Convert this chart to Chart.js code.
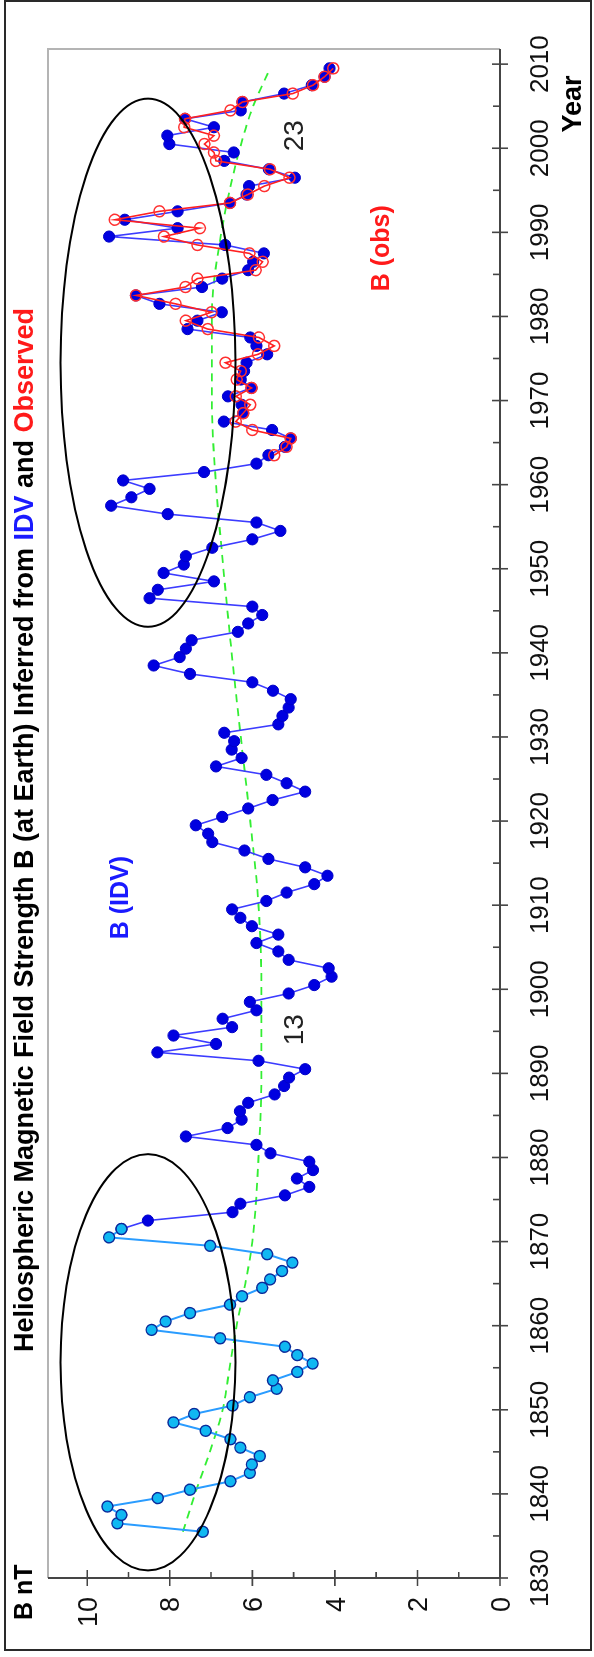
<!DOCTYPE html>
<html>
<head>
<meta charset="utf-8">
<script src="https://cdn.jsdelivr.net/npm/chart.js@4"></script>
<style>
  html, body { margin: 0; padding: 0; background: #fff; }
  body { width: 594px; height: 1657px; overflow: hidden; position: relative; }
  /* the chart is drawn landscape and turned a quarter turn, like the original figure */
  #wrap {
    position: absolute; left: 0; top: 0;
    width: 1657px; height: 594px;
    transform-origin: 0 0;
    transform: translateY(1657px) rotate(-90deg);
  }
</style>
</head>
<body>
<div id="wrap"><canvas id="hmf" width="1657" height="594"></canvas></div>
<script>
// annual means, plotted at mid-year
const idvFirstYear = 1835;
const idvB = [
  7.2, 9.27, 9.17, 9.51, 8.29, 7.51, 6.53, 6.06, 6.01, 5.82,   // 1835-1844
  6.29, 6.53, 7.13, 7.91, 7.41, 6.48, 6.06, 5.41, 5.5, 4.91,   // 1845-1854
  4.54, 4.91, 5.21, 6.78, 8.44, 8.1, 7.51, 6.54, 6.25, 5.76,   // 1855-1864
  5.57, 5.28, 5.03, 5.64, 7.02, 9.47, 9.17, 8.53, 6.48, 6.29,  // 1865-1874
  5.21, 4.62, 4.92, 4.53, 4.62, 5.56, 5.9, 7.61, 6.6, 6.26,    // 1875-1884
  6.3, 6.1, 5.46, 5.23, 5.11, 4.72, 5.85, 8.3, 6.88, 7.91,     // 1885-1894
  6.49, 6.72, 5.9, 6.06, 5.12, 4.5, 4.08, 4.15, 5.12, 5.37,    // 1895-1904
  5.9, 5.37, 6.01, 6.29, 6.49, 5.66, 5.17, 4.5, 4.18, 4.72,    // 1905-1914
  5.61, 6.19, 6.97, 7.07, 7.37, 6.73, 6.1, 5.51, 4.72, 5.17,   // 1915-1924
  5.66, 6.88, 6.26, 6.5, 6.44, 6.68, 5.37, 5.27, 5.12, 5.07,   // 1925-1934
  5.5, 6.0, 7.51, 8.39, 7.76, 7.61, 7.47, 6.35, 6.1, 5.76,     // 1935-1944
  6.0, 8.49, 8.29, 6.93, 8.15, 7.66, 7.61, 6.97, 6.0, 5.32,    // 1945-1954
  5.9, 8.05, 9.42, 8.93, 8.49, 9.13, 7.17, 5.9, 5.61, 5.21,    // 1955-1964
  5.07, 5.52, 6.69, 6.22, 6.26, 6.59, 6.02, 6.28, 6.2, 6.14,   // 1965-1974
  5.64, 5.9, 6.05, 7.57, 7.33, 6.74, 8.25, 8.82, 7.22, 6.73,   // 1975-1984
  6.1, 5.98, 5.72, 6.66, 9.47, 7.81, 9.09, 7.81, 6.54, 6.14,   // 1985-1994
  6.08, 4.97, 5.6, 6.68, 6.45, 8.01, 8.06, 6.93, 7.63, 6.28,   // 1995-2004
  6.24, 5.23, 4.56, 4.25, 4.13                                 // 2005-2009
];
const earlyLastYear = 1871;   // light blue up to here

const obsFirstYear = 1963;
const obsB = [
  5.47, 5.17, 5.07, 6.0, 6.4, 6.22, 6.05, 6.4, 6.02, 6.38,     // 1963-1972
  6.28, 6.65, 5.86, 5.47, 5.84, 7.08, 7.61, 6.99, 7.86, 8.82,  // 1973-1982
  7.62, 7.33, 5.92, 5.75, 6.07, 7.33, 8.14, 7.27, 9.33, 8.25,  // 1983-1992
  6.54, 6.11, 5.71, 5.1, 5.57, 6.88, 6.93, 7.16, 6.93, 7.65,   // 1993-2002
  7.63, 6.53, 6.24, 5.02, 4.53, 4.25, 4.04                     // 2003-2009
];

// long-term trend (green dashed)
const trendYears = [1835.5, 1840, 1845, 1850, 1855, 1860, 1865, 1870, 1880, 1890, 1900,
                    1910, 1920, 1930, 1940, 1950, 1960, 1970, 1980, 1990, 2000, 2005, 2009.5];
const trendB = [7.68, 7.39, 7.03, 6.72, 6.55, 6.38, 6.17, 6.0, 5.85, 5.78, 5.78,
                5.85, 6.05, 6.28, 6.5, 6.7, 6.88, 6.98, 6.98, 6.75, 6.3, 5.98, 5.57];

const yearTicks = [1830, 1840, 1850, 1860, 1870, 1880, 1890, 1900, 1910, 1920,
                   1930, 1940, 1950, 1960, 1970, 1980, 1990, 2000, 2010];
const yearMinorTicks = [1835, 1845, 1855, 1865, 1875, 1885, 1895, 1905, 1915, 1925,
                        1935, 1945, 1955, 1965, 1975, 1985, 1995, 2005];
const bTicks = [0, 2, 4, 6, 8, 10];
const bMinorTicks = [1, 3, 5, 7, 9];

// circled epochs: centre year, centre B, half-width in years, half-width in nT
const ellipses = [
  { year: 1974.5, b: 8.53, ry: 31.4, rb: 2.12 },
  { year: 1855.65, b: 8.53, ry: 24.75, rb: 2.12 }
];

// cycle numbers and series labels, placed in data units (text baseline)
const notes = [
  { text: "23", year: 2001.5, b: 4.77, color: "#222", bold: false, size: 28 },
  { text: "13", year: 1895.2, b: 4.77, color: "#222", bold: false, size: 28 },
  { text: "B (IDV)", year: 1910.9, b: 9.01, color: "#1a1aff", bold: true, size: 25 },
  { text: "B (obs)", year: 1988.1, b: 2.69, color: "#ff1a1a", bold: true, size: 25 }
];

const titleParts = [
  ["Heliospheric Magnetic Field Strength B (at Earth) Inferred from ", "#000"],
  ["IDV", "#1a1aff"],
  [" and ", "#000"],
  ["Observed", "#ff1a1a"]
];

const FONT = "'Liberation Sans', Arial, Helvetica, sans-serif";

function toPoints(first, values, from, to) {
  const pts = [];
  values.forEach((v, i) => {
    const yr = first + i;
    if (yr >= from && yr <= to) pts.push({ x: yr + 0.5, y: v });
  });
  return pts;
}

const decor = {
  id: "decor",
  beforeDraw(chart) {
    const c = chart.ctx;
    c.save();
    c.fillStyle = "#fff";
    c.fillRect(0, 0, chart.width, chart.height);
    c.restore();
  },
  afterDatasetsDraw(chart) {
    const c = chart.ctx;
    const xs = chart.scales.x, ys = chart.scales.y;
    c.save();
    c.strokeStyle = "#000";
    c.lineWidth = 2;
    ellipses.forEach(e => {
      const cx = xs.getPixelForValue(e.year);
      const cy = ys.getPixelForValue(e.b);
      const rx = Math.abs(xs.getPixelForValue(e.year + e.ry) - cx);
      const ry = Math.abs(ys.getPixelForValue(e.b + e.rb) - cy);
      c.beginPath();
      c.ellipse(cx, cy, rx, ry, 0, 0, Math.PI * 2);
      c.stroke();
    });

    notes.forEach(n => {
      c.font = (n.bold ? "bold " : "") + n.size + "px " + FONT;
      c.fillStyle = n.color;
      c.textAlign = "center";
      c.textBaseline = "alphabetic";
      c.fillText(n.text, xs.getPixelForValue(n.year), ys.getPixelForValue(n.b));
    });
    c.restore();
  },
  afterDraw(chart) {
    const c = chart.ctx;
    const a = chart.chartArea;
    const xs = chart.scales.x, ys = chart.scales.y;
    c.save();

    // light box on the two free sides
    c.strokeStyle = "#b4b4b4";
    c.lineWidth = 2;
    c.beginPath();
    c.moveTo(a.left, a.top);
    c.lineTo(a.right, a.top);
    c.lineTo(a.right, a.bottom);
    c.stroke();

    // axis lines
    c.strokeStyle = "#454545";
    c.lineWidth = 2;
    c.beginPath();
    c.moveTo(a.left, a.bottom);
    c.lineTo(a.right, a.bottom);
    c.moveTo(a.left, a.top);
    c.lineTo(a.left, a.bottom);
    c.stroke();

    // ticks
    c.lineWidth = 1.6;
    c.beginPath();
    yearTicks.forEach(t => {
      const px = xs.getPixelForValue(t);
      c.moveTo(px, a.bottom - 8);
      c.lineTo(px, a.bottom + 8);
    });
    yearMinorTicks.forEach(t => {
      const px = xs.getPixelForValue(t);
      c.moveTo(px, a.bottom - 7);
      c.lineTo(px, a.bottom);
    });
    bTicks.forEach(t => {
      const py = ys.getPixelForValue(t);
      c.moveTo(a.left - 8, py);
      c.lineTo(a.left + 8, py);
    });
    bMinorTicks.forEach(t => {
      const py = ys.getPixelForValue(t);
      c.moveTo(a.left, py);
      c.lineTo(a.left + 6, py);
    });
    c.stroke();

    // tick labels
    c.fillStyle = "#111";
    c.font = "26px " + FONT;
    c.textAlign = "center";
    c.textBaseline = "alphabetic";
    yearTicks.forEach(t => c.fillText(String(t), xs.getPixelForValue(t), 548));
    c.font = "27px " + FONT;
    c.textAlign = "right";
    bTicks.forEach(t => c.fillText(String(t), 60, ys.getPixelForValue(t) + 9.7));

    // axis titles
    c.font = "bold 27px " + FONT;
    c.textAlign = "center";
    c.fillStyle = "#000";
    c.fillText("Year", 1553, 581);
    c.font = "bold 25px " + FONT;
    c.textAlign = "left";
    c.fillText("B nT", 37, 32);

    // title, coloured words
    c.font = "bold 27px " + FONT;
    let total = 0;
    titleParts.forEach(p => { total += c.measureText(p[0]).width; });
    let x = 827 - total / 2;
    titleParts.forEach(p => {
      c.fillStyle = p[1];
      c.fillText(p[0], x, 33);
      x += c.measureText(p[0]).width;
    });

    // outer frame
    c.strokeStyle = "#2a2a2a";
    c.lineWidth = 2;
    c.strokeRect(7, 5, 1649, 586);
    c.restore();
  }
};

new Chart(document.getElementById("hmf"), {
  type: "scatter",
  data: {
    datasets: [
      {
        label: "B (obs)",
        data: toPoints(obsFirstYear, obsB, obsFirstYear, 2009),
        showLine: true,
        borderColor: "#ff2020",
        borderWidth: 1.6,
        pointRadius: 5.5,
        pointBorderWidth: 1.5,
        pointBorderColor: "#ff3030",
        pointBackgroundColor: "rgba(255,255,255,0)",
        order: 1
      },
      {
        label: "B (IDV) early",
        data: toPoints(idvFirstYear, idvB, idvFirstYear, earlyLastYear),
        showLine: true,
        borderColor: "#2a9cff",
        borderWidth: 2,
        pointRadius: 5.5,
        pointBorderWidth: 1.4,
        pointBorderColor: "#0b2a9a",
        pointBackgroundColor: "#10b8f2",
        order: 2
      },
      {
        label: "B (IDV)",
        data: toPoints(idvFirstYear, idvB, earlyLastYear, 2009),
        showLine: true,
        borderColor: "#3c3cff",
        borderWidth: 1.6,
        pointRadius: 5.6,
        pointBorderWidth: 1,
        pointBorderColor: "#0000c8",
        pointBackgroundColor: "#0000e0",
        order: 3
      },
      {
        label: "trend",
        data: trendYears.map((y, i) => ({ x: y, y: trendB[i] })),
        showLine: true,
        borderColor: "#33ee33",
        borderWidth: 1.8,
        borderDash: [8, 6],
        cubicInterpolationMode: "monotone",
        pointRadius: 0,
        order: 4
      }
    ]
  },
  options: {
    responsive: false,
    animation: false,
    devicePixelRatio: 1,
    layout: { padding: { left: 0, right: 49, top: 48, bottom: 0 } },
    plugins: {
      legend: { display: false },
      title: { display: false },
      tooltip: { enabled: false }
    },
    scales: {
      x: {
        type: "linear",
        min: 1830,
        max: 2011.8,
        grid: { display: false },
        border: { display: false },
        ticks: { display: false },
        afterFit(s) { s.height = 94; }
      },
      y: {
        type: "linear",
        min: 0,
        max: 10.95,
        grid: { display: false },
        border: { display: false },
        ticks: { display: false },
        afterFit(s) { s.width = 79; }
      }
    }
  },
  plugins: [decor]
});
</script>
</body>
</html>
